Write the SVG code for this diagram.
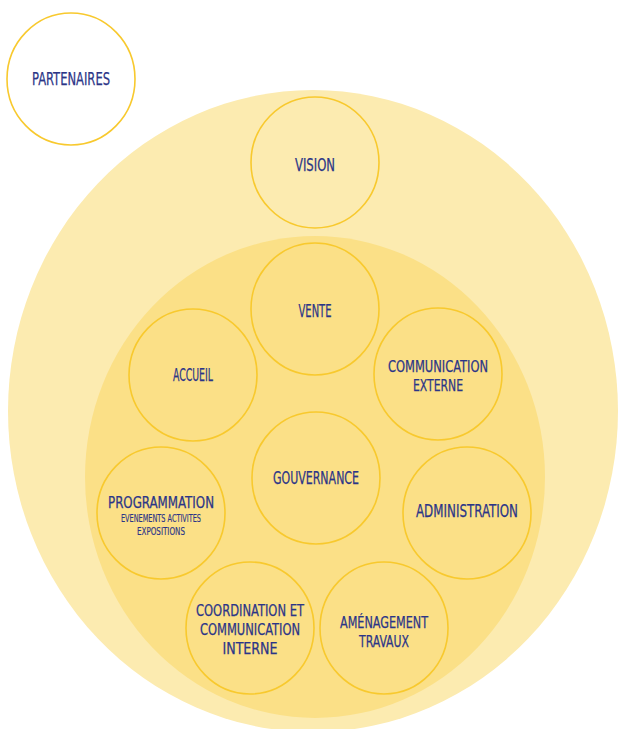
<svg xmlns="http://www.w3.org/2000/svg" width="620" height="729" viewBox="0 0 620 729">
<style>
.bg{fill:#ffffff}
.outer{fill:#FCEBB0}
.inner{fill:#FBE087}
.node{fill:none;stroke:#F8C92E;stroke-width:1.6}
.white{fill:#ffffff;stroke:#F8C92E;stroke-width:1.6}
.lbl{font-family:"DejaVu Sans Condensed","Liberation Sans Narrow","Liberation Sans",sans-serif;font-size:17px;fill:#2B3587;stroke:#2B3587;stroke-width:0.25;text-anchor:middle;dominant-baseline:central}
.ml{font-size:16px}
.sm{font-size:10.5px;stroke-width:0.15}
</style>
<rect class="bg" x="0" y="0" width="620" height="729"/>
<ellipse class="outer" cx="313" cy="411" rx="305" ry="321"/>
<ellipse class="inner" cx="315" cy="477" rx="230" ry="241"/>
<g id="partenaires">
<ellipse class="white" cx="71" cy="79" rx="64" ry="66"/>
<text class="lbl" x="71" y="79" textLength="78" lengthAdjust="spacingAndGlyphs">PARTENAIRES</text>
</g>
<g id="vision">
<ellipse class="node" cx="315" cy="162.5" rx="64" ry="65.5"/>
<text class="lbl" x="315" y="165" textLength="40" lengthAdjust="spacingAndGlyphs">VISION</text>
</g>
<g id="vente">
<ellipse class="node" cx="315" cy="309" rx="64" ry="66"/>
<text class="lbl" x="315" y="311" textLength="33" lengthAdjust="spacingAndGlyphs">VENTE</text>
</g>
<g id="accueil">
<ellipse class="node" cx="193" cy="375" rx="64" ry="66"/>
<text class="lbl" x="193" y="375" textLength="40" lengthAdjust="spacingAndGlyphs">ACCUEIL</text>
</g>
<g id="communication-externe">
<ellipse class="node" cx="438" cy="374" rx="64" ry="66"/>
<text class="lbl ml" x="438" y="366" textLength="100" lengthAdjust="spacingAndGlyphs">COMMUNICATION</text>
<text class="lbl ml" x="438" y="385" textLength="50" lengthAdjust="spacingAndGlyphs">EXTERNE</text>
</g>
<g id="gouvernance">
<ellipse class="node" cx="316" cy="478" rx="64" ry="66"/>
<text class="lbl" x="316" y="478" textLength="86" lengthAdjust="spacingAndGlyphs">GOUVERNANCE</text>
</g>
<g id="programmation">
<ellipse class="node" cx="161" cy="513" rx="64" ry="66"/>
<text class="lbl" style="font-size:15px" x="161" y="503" textLength="106" lengthAdjust="spacingAndGlyphs">PROGRAMMATION</text>
<text class="lbl sm" x="161" y="518.2" textLength="80" lengthAdjust="spacingAndGlyphs">EVENEMENTS ACTIVITES</text>
<text class="lbl sm" x="161" y="530.8" textLength="48" lengthAdjust="spacingAndGlyphs">EXPOSITIONS</text>
</g>
<g id="administration">
<ellipse class="node" cx="467" cy="513" rx="64" ry="66"/>
<text class="lbl" x="467" y="511" textLength="102" lengthAdjust="spacingAndGlyphs">ADMINISTRATION</text>
</g>
<g id="coordination">
<ellipse class="node" cx="250" cy="628" rx="64" ry="66"/>
<text class="lbl ml" x="250" y="610" textLength="108" lengthAdjust="spacingAndGlyphs">COORDINATION ET</text>
<text class="lbl ml" x="250" y="629" textLength="100" lengthAdjust="spacingAndGlyphs">COMMUNICATION</text>
<text class="lbl ml" x="250" y="648" textLength="55" lengthAdjust="spacingAndGlyphs">INTERNE</text>
</g>
<g id="amenagement">
<ellipse class="node" cx="384" cy="628" rx="64" ry="66"/>
<text class="lbl ml" x="384" y="622" textLength="88" lengthAdjust="spacingAndGlyphs">AMÉNAGEMENT</text>
<text class="lbl ml" x="384" y="641" textLength="50" lengthAdjust="spacingAndGlyphs">TRAVAUX</text>
</g>
<g id="connectors"></g>
</svg>
